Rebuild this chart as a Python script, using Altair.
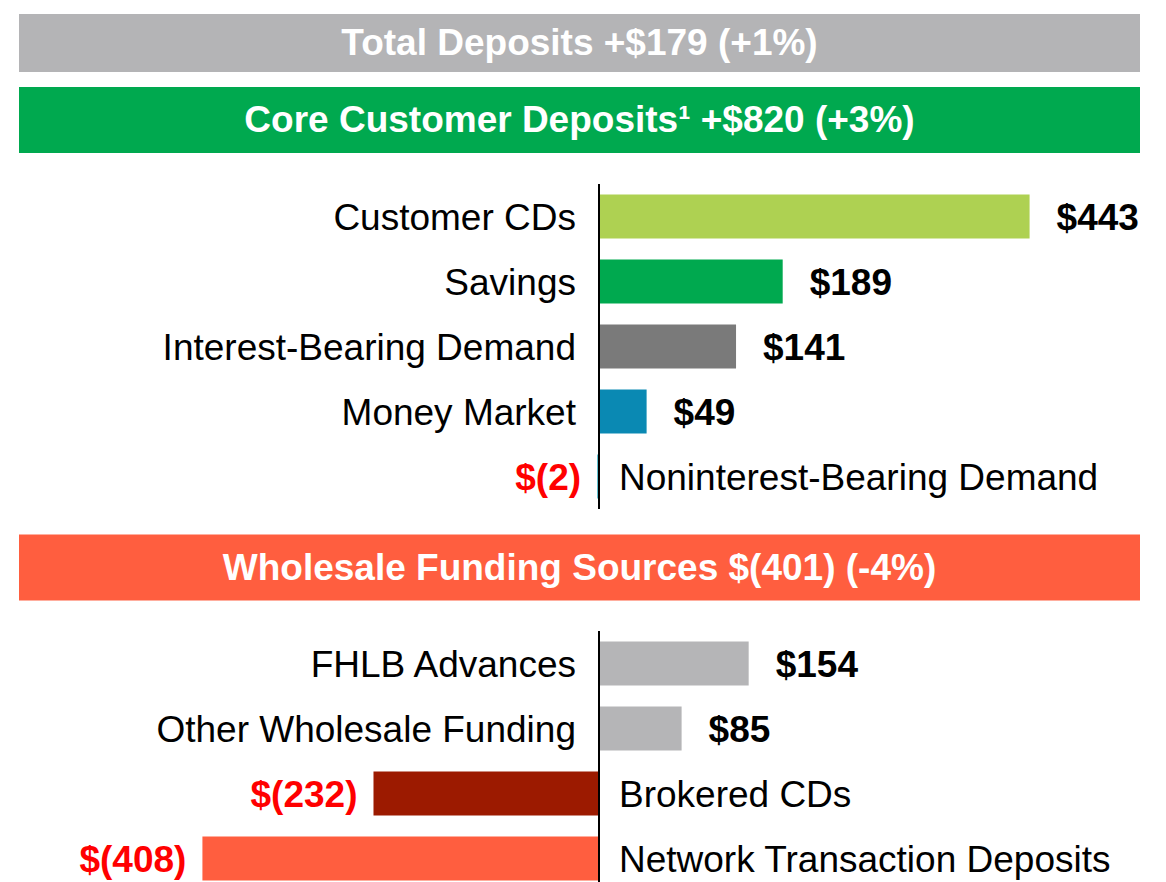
import altair as alt
import pandas as pd

FONT = "Liberation Sans"

# ---- data ----
banner_titles = [
    "Total Deposits +$179 (+1%)",
    "Core Customer Deposits\u00b9 +$820 (+3%)",
    "Wholesale Funding Sources $(401) (-4%)",
]
banner_colors = ["#B4B4B6", "#00A94F", "#FF5E3F"]

core_cats = ["Customer CDs", "Savings", "Interest-Bearing Demand", "Money Market",
             "Noninterest-Bearing Demand"]
core_vals = [443, 189, 141, 49, -2]
core_colors = ["#AED152", "#00A94F", "#7A7A7A", "#0A89B3", "#5BC0CF"]

whole_cats = ["FHLB Advances", "Other Wholesale Funding", "Brokered CDs",
              "Network Transaction Deposits"]
whole_vals = [154, 85, -232, -408]
whole_colors = ["#B5B5B7", "#B5B5B7", "#9C1A00", "#FF5E3F"]

W = 1121
X_DOMAIN = [-596.7, 556.6]
FS = 37


def banner(title, color, height, top, bh):
    df = pd.DataFrame({"t": [title]})
    base = alt.Chart(df)
    rect = base.mark_rect(color=color).encode(
        x=alt.value(0), x2=alt.value(W), y=alt.value(top), y2=alt.value(top + bh)
    )
    txt = base.mark_text(
        font=FONT, fontSize=FS, fontWeight="bold", color="white",
        align="center", baseline="middle"
    ).encode(text="t:N", x=alt.value(W / 2), y=alt.value(top + bh / 2 + 1))
    return alt.layer(rect, txt).properties(width=W, height=height)


def section(cats, vals, colors, height):
    df = pd.DataFrame({"cat": cats, "v": vals})
    base = alt.Chart(df).transform_calculate(
        lab="datum.v >= 0 ? '$' + datum.v : '$(' + (-datum.v) + ')'"
    )
    xs = alt.Scale(domain=X_DOMAIN, nice=False, zero=False)
    ys = alt.Scale(paddingInner=0.323, paddingOuter=0.1615)
    y = alt.Y("cat:N", sort=cats, axis=None, scale=ys)
    bars = base.mark_bar().encode(
        x=alt.X("v:Q", scale=xs, axis=None),
        x2=alt.datum(0),
        y=y,
        color=alt.Color("cat:N", scale=alt.Scale(domain=cats, range=colors), legend=None),
    )
    rule = base.mark_rule(color="black", strokeWidth=1.6).encode(x=alt.datum(0))
    pos = base.transform_filter("datum.v >= 0")
    neg = base.transform_filter("datum.v < 0")
    cat_pos = pos.mark_text(font=FONT, fontSize=FS, align="right", baseline="middle",
                            dx=-23, dy=2, color="black").encode(
        x=alt.datum(0), y=y, text="cat:N")
    cat_neg = neg.mark_text(font=FONT, fontSize=FS, align="left", baseline="middle",
                            dx=20, dy=2, color="black").encode(
        x=alt.datum(0), y=y, text="cat:N")
    val_pos = pos.mark_text(font=FONT, fontSize=FS, fontWeight="bold", align="left",
                            baseline="middle", dx=27, dy=2, color="black").encode(
        x="v:Q", y=y, text="lab:N")
    val_neg = neg.mark_text(font=FONT, fontSize=FS, fontWeight="bold", align="right",
                            baseline="middle", dx=-16, dy=2, color="#FF0000").encode(
        x="v:Q", y=y, text="lab:N")
    return alt.layer(bars, rule, cat_pos, cat_neg, val_pos, val_neg).properties(
        width=W, height=height
    )


chart = alt.vconcat(
    banner(banner_titles[0], banner_colors[0], 73, 0, 58),
    banner(banner_titles[1], banner_colors[1], 96.5, 0, 66),
    section(core_cats, core_vals, core_colors, 325),
    banner(banner_titles[2], banner_colors[2], 121.5, 25.5, 66),
    section(whole_cats, whole_vals, whole_colors, 260),
    spacing=0,
    bounds="flush",
).resolve_scale(
    color="independent", x="independent", y="independent"
).properties(
    padding={"left": 11, "top": 6, "right": 0, "bottom": 0},
    background="white",
).configure_view(strokeWidth=0, stroke="transparent")

chart.save("out.html", embed_options={"renderer": "svg", "actions": False})
